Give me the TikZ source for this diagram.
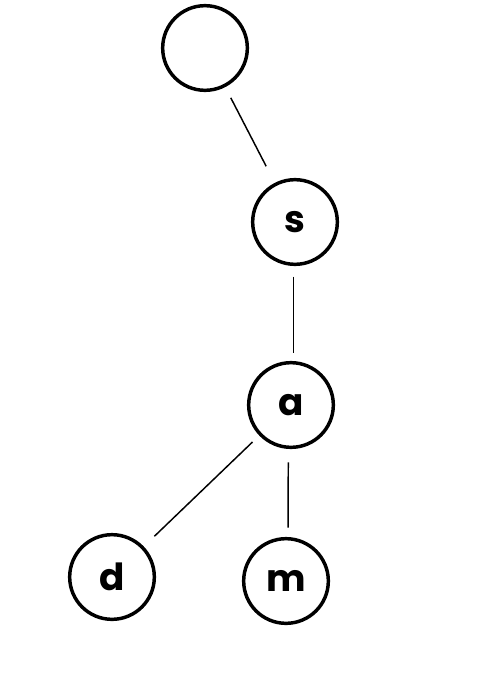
\documentclass[tikz,border=0pt]{standalone}
\usepackage{fontspec}
\setmainfont{Poppins}
\usetikzlibrary{positioning}

\tikzset{
  vertex/.style={circle, draw, line width=2.6pt, minimum size=63.5pt, inner sep=0pt, font=\bfseries\fontsize{28}{28}\selectfont},
  edge/.style={line width=1.1pt}
}

\begin{document}
\begin{tikzpicture}[x=0.75pt,y=-0.75pt]
        \useasboundingbox (0,0) rectangle (500,674);
        % Vertices
        \node[vertex] (root) at (205,48) {};
        \node[vertex] (s) at (295,222) {s};
        \node[vertex] (a) at (291,405) {a};
        \node[vertex] (d) at (112,577) {d};
        \node[vertex] (m) at (286,581) {m};
        % Edges
        \draw[edge, shorten <=9pt, shorten >=14pt] (root) -- (s);
        \draw[edge, shorten <=8pt, shorten >=6pt] ([xshift=-1pt]s.south) -- ([xshift=2pt]a.north);
        \draw[edge, shorten <=7pt, shorten >=11pt] (a) -- (d);
        \draw[edge, shorten <=10pt, shorten >=7pt] ([xshift=-2pt]a.south) -- ([xshift=1.5pt]m.north);
    \end{tikzpicture}
\end{document}
